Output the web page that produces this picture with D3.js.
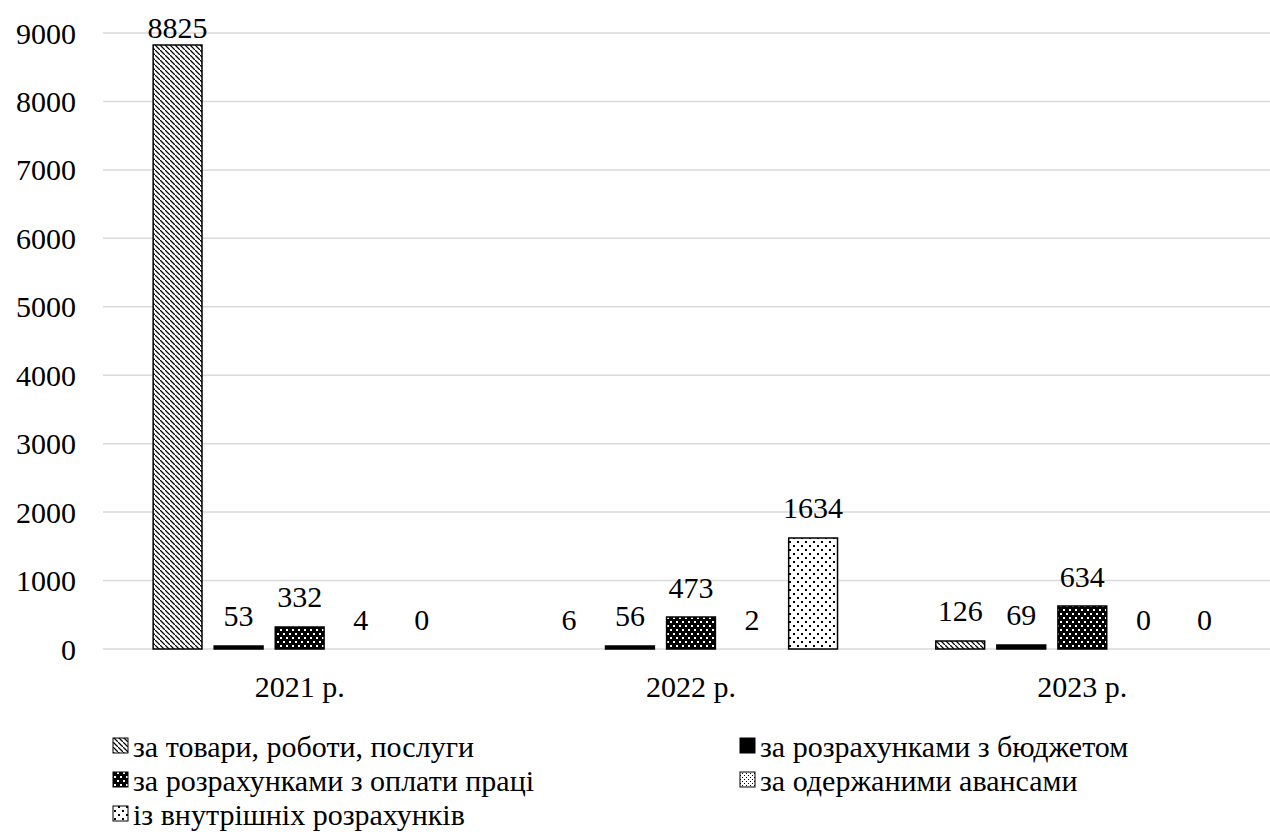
<!DOCTYPE html>
<html>
<head>
<meta charset="utf-8">
<script src="https://cdn.jsdelivr.net/npm/d3@7"></script>
<style>
  html, body { margin: 0; padding: 0; background: #fff; }
  svg text { font-family: "Times New Roman", "Liberation Serif", "DejaVu Serif", serif; }
</style>
</head>
<body>
<svg id="chart" width="1270" height="837"></svg>
<script>
// Years along the x axis
const years = ["2021 р.", "2022 р.", "2023 р."];

// Receivable categories (series)
const seriesNames = [
  "за товари, роботи, послуги",
  "за розрахунками з бюджетом",
  "за розрахунками з оплати праці",
  "за одержаними авансами",
  "із внутрішніх розрахунків"
];

// Values per series, one per year
const tovary     = [8825, 6, 126];
const budzhet    = [53, 56, 69];
const oplata     = [332, 473, 634];
const avansy     = [4, 2, 0];
const vnutrishni = [0, 1634, 0];
const seriesValues = [tovary, budzhet, oplata, avansy, vnutrishni];

// Y axis ticks
const yTicks = [0, 1000, 2000, 3000, 4000, 5000, 6000, 7000, 8000, 9000];

const svg = d3.select("#chart");
const fontSize = 30;

// Fill patterns for each series
const defs = svg.append("defs");
const fills = ["url(#p-tovary)", "#000", "url(#p-oplata)", "url(#p-avansy)", "url(#p-vnutr)"];

// dark diagonal hatch
{
  const p = defs.append("pattern").attr("id", "p-tovary")
    .attr("patternUnits", "userSpaceOnUse").attr("width", 5).attr("height", 5);
  p.append("rect").attr("width", 5).attr("height", 5).attr("fill", "#fff");
  for (let i = 0; i < 5; i++) {
    p.append("rect").attr("x", i).attr("y", i).attr("width", 1.4).attr("height", 1.4).attr("fill", "#000");
  }
}
// black with white dots
{
  const p = defs.append("pattern").attr("id", "p-oplata")
    .attr("patternUnits", "userSpaceOnUse").attr("width", 6).attr("height", 8);
  p.append("rect").attr("width", 6).attr("height", 8).attr("fill", "#000");
  p.append("rect").attr("x", 1).attr("y", 1).attr("width", 2).attr("height", 2).attr("fill", "#fff");
  p.append("rect").attr("x", 4).attr("y", 5).attr("width", 2).attr("height", 2).attr("fill", "#fff");
}
// dotted grid
{
  const p = defs.append("pattern").attr("id", "p-avansy")
    .attr("patternUnits", "userSpaceOnUse").attr("width", 4).attr("height", 4);
  p.append("rect").attr("width", 4).attr("height", 4).attr("fill", "#fff");
  p.append("rect").attr("x", 0).attr("y", 0).attr("width", 1).attr("height", 1).attr("fill", "#000");
  p.append("rect").attr("x", 2).attr("y", 2).attr("width", 1).attr("height", 1).attr("fill", "#000");
}
// sparse dots
{
  const p = defs.append("pattern").attr("id", "p-vnutr")
    .attr("patternUnits", "userSpaceOnUse").attr("width", 8).attr("height", 8);
  p.append("rect").attr("width", 8).attr("height", 8).attr("fill", "#fff");
  p.append("rect").attr("x", 1).attr("y", 1).attr("width", 2).attr("height", 2).attr("fill", "#000");
  p.append("rect").attr("x", 5).attr("y", 5).attr("width", 2).attr("height", 2).attr("fill", "#000");
}

// Scales
const y = d3.scaleLinear().domain([0, 9000]).range([649, 33]);
const x0 = d3.scaleBand().domain(years).range([104, 1278]).paddingInner(0).paddingOuter(0);
const x1 = d3.scaleBand().domain(d3.range(seriesNames.length))
  .range([0, x0.bandwidth()]).paddingInner(0.2).paddingOuter(0.805);

// Whole-pixel bar height, so sub-pixel values render as nothing
const barH = v => Math.floor(y(0) - y(v));

// Gridlines
svg.append("g").selectAll("line").data(yTicks).join("line")
  .attr("x1", 103).attr("x2", 1270)
  .attr("y1", d => y(d)).attr("y2", d => y(d))
  .attr("stroke", "#d9d9d9").attr("stroke-width", 1.5);

// Y tick labels
svg.append("g").selectAll("text").data(yTicks).join("text")
  .attr("x", 76).attr("y", d => y(d))
  .attr("dy", "0.35em")
  .attr("text-anchor", "end")
  .attr("font-size", fontSize)
  .text(d => d);

// Bars
const rows = [];
years.forEach((yr, gi) => {
  seriesValues.forEach((vals, si) => {
    rows.push({ year: yr, s: si, v: vals[gi] });
  });
});

svg.append("g").selectAll("rect").data(rows.filter(d => barH(d.v) > 0)).join("rect")
  .attr("x", d => x0(d.year) + x1(d.s))
  .attr("y", d => y(0) - barH(d.v))
  .attr("width", x1.bandwidth())
  .attr("height", d => barH(d.v))
  .attr("fill", d => fills[d.s])
  .attr("stroke", "#000")
  .attr("stroke-width", 1.5);

// Value labels (kept inside the plot area at the top)
svg.append("g").selectAll("text").data(rows).join("text")
  .attr("x", d => x0(d.year) + x1(d.s) + x1.bandwidth() / 2)
  .attr("y", d => Math.max(y(d.v) - 19, 38))
  .attr("text-anchor", "middle")
  .attr("font-size", fontSize)
  .text(d => d.v);

// X category labels
svg.append("g").selectAll("text").data(years).join("text")
  .attr("x", d => x0(d) + x0.bandwidth() / 2)
  .attr("y", 697)
  .attr("text-anchor", "middle")
  .attr("font-size", fontSize)
  .text(d => d);

// Legend
const legendPos = [
  { x: 113, y: 757 }, { x: 740, y: 757 },
  { x: 113, y: 791 }, { x: 740, y: 791 },
  { x: 113, y: 825 }
];
const lg = svg.append("g").selectAll("g").data(seriesNames).join("g")
  .attr("transform", (d, i) => `translate(${legendPos[i].x},${legendPos[i].y})`);
lg.append("rect")
  .attr("x", 0).attr("y", -19).attr("width", 15).attr("height", 15)
  .attr("fill", (d, i) => fills[i])
  .attr("stroke", "#000").attr("stroke-width", 1);
lg.append("text")
  .attr("x", 20).attr("y", 0)
  .attr("font-size", fontSize)
  .text(d => d);
</script>
</body>
</html>
